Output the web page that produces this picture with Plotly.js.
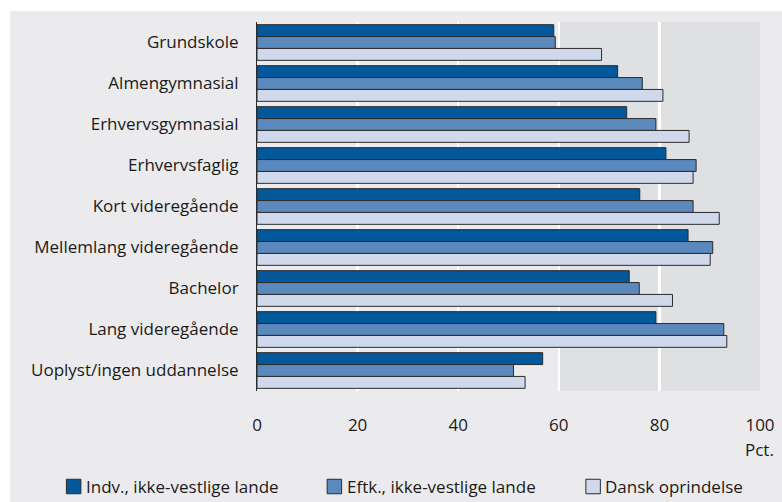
<!DOCTYPE html>
<html>
<head>
<meta charset="utf-8">
<script src="https://cdn.plot.ly/plotly-3.0.1.min.js"></script>
<style>
  html, body { margin: 0; padding: 0; background: #ffffff; }
  #chart { position: absolute; left: 10px; top: 11px; width: 772px; height: 491px; }
</style>
</head>
<body>
<div id="chart"></div>
<script>
const categories = [
  "Grundskole",
  "Almengymnasial",
  "Erhvervsgymnasial",
  "Erhvervsfaglig",
  "Kort videregående",
  "Mellemlang videregående",
  "Bachelor",
  "Lang videregående",
  "Uoplyst/ingen uddannelse"
];
const seriesNames = ["Indv., ikke-vestlige lande", "Eftk., ikke-vestlige lande", "Dansk oprindelse"];
const indvValues  = [59.0, 71.7, 73.5, 81.3, 76.1, 85.7, 74.0, 79.3, 56.8];
const eftkValues  = [59.3, 76.6, 79.3, 87.3, 86.7, 90.6, 76.0, 92.8, 51.0];
const danskValues = [68.5, 80.7, 85.9, 86.7, 91.9, 90.1, 82.6, 93.4, 53.3];
const tickValues = [0, 20, 40, 60, 80, 100];
const tickLabels = ["0", "20", "40", "60", "80", "100"];
const unitLabel = "Pct.";

const colors = ["#02589b", "#5b88bd", "#d0d9ec"];
const outline = "#2b2b2b";
const allValues = [indvValues, eftkValues, danskValues];
const FONT = "'Open Sans', Roboto, sans-serif";
const FS = 17;
const TXT = "#1a1a1a";

// plot geometry (pixels inside the chart div)
const W = 772, H = 491;
const M = { l: 247, r: 21.5, t: 11, b: 111 };
const plotW = W - M.l - M.r, plotH = H - M.t - M.b;
const pxX = px => px / plotW;   // pixel offset from plot left -> paper
const pxY = px => px / plotH;   // pixel offset from plot bottom -> paper

const traces = allValues.map((vals, i) => ({
  type: "bar",
  orientation: "h",
  name: seriesNames[i],
  y: categories,
  x: vals,
  marker: { color: colors[i], line: { color: outline, width: 1 } },
  hoverinfo: "x+name"
}));

// manual legend layout (pixel offsets relative to plot area)
const legendSquareX = [-190.8, 70.2, 329.2];
const legendTextX   = [-172.8, 88.2, 346.2];
const legendY = -95.5;
const sq = 14.5;

const shapes = [{
  type: "rect", layer: "below",
  xref: "x", yref: "paper",
  x0: 60, x1: 100, y0: 0, y1: 1,
  fillcolor: "#dfe0e2", line: { width: 0 }
}];
const annotations = [{
  text: unitLabel, xref: "x", yref: "paper",
  x: 100, y: 0, yshift: -58, xshift: 16,
  showarrow: false, xanchor: "right", yanchor: "middle",
  font: { family: FONT, size: FS, color: TXT }
}];
seriesNames.forEach((name, i) => {
  shapes.push({
    type: "rect", xref: "paper", yref: "paper",
    x0: pxX(legendSquareX[i]), x1: pxX(legendSquareX[i] + sq),
    y0: pxY(legendY - sq / 2), y1: pxY(legendY + sq / 2),
    fillcolor: colors[i], line: { color: outline, width: 1 }
  });
  annotations.push({
    text: name, xref: "paper", yref: "paper",
    x: 0, y: 0, xshift: legendTextX[i], yshift: legendY,
    xanchor: "left", yanchor: "middle", showarrow: false,
    font: { family: FONT, size: FS, color: TXT }
  });
});

const layout = {
  width: W,
  height: H,
  margin: M,
  paper_bgcolor: "#ebebed",
  plot_bgcolor: "#ebebed",
  barmode: "group",
  bargap: 0.13,
  bargroupgap: 0,
  font: { family: FONT, size: FS, color: TXT },
  showlegend: false,
  xaxis: {
    range: [0, 100],
    tickvals: tickValues,
    ticktext: tickLabels,
    showgrid: true,
    gridcolor: "#ffffff",
    gridwidth: 2.5,
    zeroline: false,
    ticks: "outside",
    ticklen: 19,
    tickcolor: "rgba(0,0,0,0)",
    tickfont: { family: FONT, size: FS, color: TXT },
    fixedrange: true
  },
  yaxis: {
    autorange: "reversed",
    showline: true,
    linecolor: outline,
    linewidth: 1,
    ticks: "outside",
    ticklen: 14,
    tickcolor: "rgba(0,0,0,0)",
    tickfont: { family: FONT, size: FS, color: TXT },
    fixedrange: true
  },
  shapes: shapes,
  annotations: annotations
};

Plotly.newPlot("chart", traces, layout, { displayModeBar: false, staticPlot: true });
</script>
</body>
</html>
